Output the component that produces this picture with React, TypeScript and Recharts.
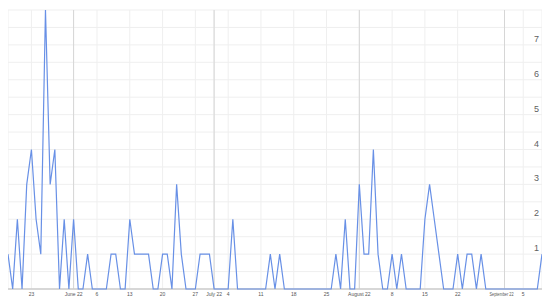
import React from "react";
import { LineChart, Line, XAxis, YAxis, CartesianGrid, ReferenceLine } from "recharts";

const startDate = "2022-05-18";
const dayCount = 115;

const values: number[] = [
  1, 0, 2, 0, 3, 4, 2, 1, 8, 3,
  4, 0, 2, 0, 2, 0, 0, 1, 0, 0,
  0, 0, 1, 1, 0, 0, 2, 1, 1, 1,
  1, 0, 0, 1, 1, 0, 3, 1, 0, 0,
  0, 1, 1, 1, 0, 0, 0, 0, 2, 0,
  0, 0, 0, 0, 0, 0, 1, 0, 1, 0,
  0, 0, 0, 0, 0, 0, 0, 0, 0, 0,
  1, 0, 2, 0, 0, 3, 1, 1, 4, 1,
  0, 0, 1, 0, 1, 0, 0, 0, 0, 2,
  3, 2, 1, 0, 0, 0, 1, 0, 1, 1,
  0, 1, 0, 0, 0, 0, 0, 0, 0, 0,
  0, 0, 0, 0, 1,
];

const xTickDates = [
  "2022-05-23", "2022-06-01", "2022-06-06", "2022-06-13", "2022-06-20", "2022-06-27",
  "2022-07-01", "2022-07-04", "2022-07-11", "2022-07-18", "2022-07-25",
  "2022-08-01", "2022-08-08", "2022-08-15", "2022-08-22",
  "2022-09-01", "2022-09-05",
];
const xTickLabels = [
  "23", "June 22", "6", "13", "20", "27",
  "July 22", "4", "11", "18", "25",
  "August 22", "8", "15", "22",
  "September 22", "5",
];
const monthStarts = ["2022-06-01", "2022-07-01", "2022-08-01", "2022-09-01"];

const yGridValues = [0, 0.5, 1, 1.5, 2, 2.5, 3, 3.5, 4, 4.5, 5, 5.5, 6, 6.5, 7, 7.5, 8];
const yLabelValues = [1, 2, 3, 4, 5, 6, 7];

function buildDates(): string[] {
  const out: string[] = [];
  const d = new Date(startDate + "T00:00:00Z");
  for (let i = 0; i < dayCount; i++) {
    out.push(d.toISOString().slice(0, 10));
    d.setUTCDate(d.getUTCDate() + 1);
  }
  return out;
}

const dates = buildDates();
const data = dates.map((date, i) => ({ date, value: values[i] }));

const FONT = "Arial, 'Liberation Sans', sans-serif";

const XTick = (props: any) => {
  const { x, y, payload } = props;
  const idx = xTickDates.indexOf(payload.value);
  const label = idx >= 0 ? xTickLabels[idx] : "";
  const long = label.length > 10;
  return (
    <text
      x={long ? x - 3 : x}
      y={y + 7}
      textAnchor="middle"
      fontSize={5}
      fill="#555"
      fontFamily={FONT}
      {...(long ? { textLength: 24, lengthAdjust: "spacingAndGlyphs" } : {})}
    >
      {label}
    </text>
  );
};

const YTick = (props: any) => {
  const { x, y, payload } = props;
  if (!yLabelValues.includes(payload.value)) return <g />;
  return (
    <text x={x - 3} y={y - 3} textAnchor="end" fontSize={9} fill="#5f5f5f" fontFamily={FONT}>
      {payload.value}
    </text>
  );
};

export default function App() {
  return (
    <LineChart
      width={542}
      height={295}
      data={data}
      margin={{ top: 2, right: 0, bottom: 0, left: 0 }}
    >
      <CartesianGrid stroke="#efefef" strokeWidth={1} />
      <XAxis
        dataKey="date"
        ticks={xTickDates}
        interval={0}
        tick={<XTick />}
        tickLine={false}
        axisLine={false}
        tickSize={0}
        tickMargin={0}
        height={14}
      />
      <YAxis
        orientation="right"
        domain={[0, 8]}
        ticks={yGridValues}
        interval={0}
        tick={<YTick />}
        tickLine={false}
        axisLine={false}
        tickSize={0}
        tickMargin={0}
        width={8}
      />
      {monthStarts.map((m) => (
        <ReferenceLine key={m} x={m} stroke="#d6d6d6" strokeWidth={1} />
      ))}
      <ReferenceLine y={0} stroke="#cccccc" strokeWidth={1.5} />
      <Line
        type="linear"
        dataKey="value"
        stroke="#6890e6"
        strokeWidth={1.2}
        dot={false}
        isAnimationActive={false}
      />
    </LineChart>
  );
}
